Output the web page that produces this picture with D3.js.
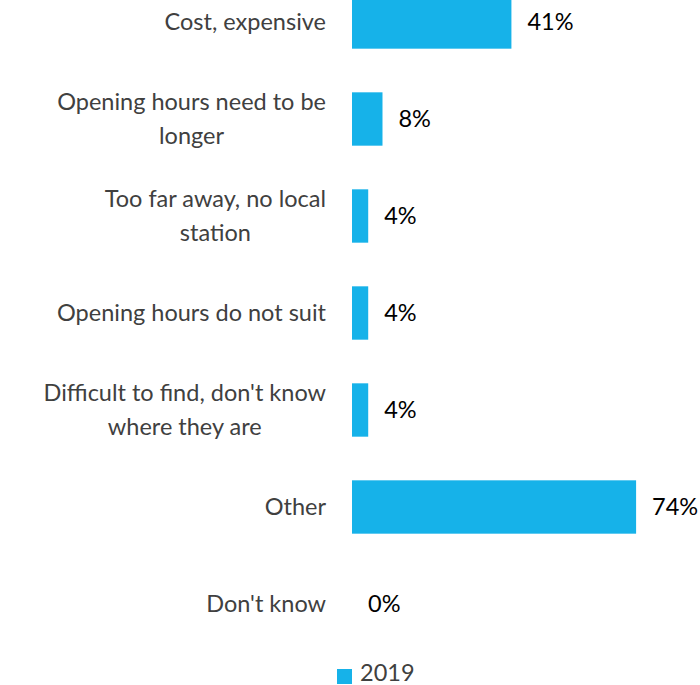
<!DOCTYPE html>
<html>
<head>
<meta charset="utf-8">
<script src="https://cdn.jsdelivr.net/npm/d3@7"></script>
<style>
  html, body { margin: 0; padding: 0; background: #fff; overflow: hidden; }
  svg { display: block; }
  text { font-family: Lato, "Open Sans", sans-serif; }
</style>
</head>
<body>
<svg id="chart" width="700" height="685"></svg>
<script>
const categories = [
  "Cost, expensive",
  "Opening hours need to be longer",
  "Too far away, no local station",
  "Opening hours do not suit",
  "Difficult to find, don't know where they are",
  "Other",
  "Don't know"
];
const values2019 = [41.3, 7.9, 4.2, 4.2, 4.2, 73.6, 0];
const valueLabels = ["41%", "8%", "4%", "4%", "4%", "74%", "0%"];
const seriesName = "2019";

const svg = d3.select("#chart");
const barColor = "#16B2E9";
const fs = 23.5;

const x = d3.scaleLinear().domain([0, 100]).range([352, 738]);
const y = d3.scaleBand().domain(categories).range([-26.5, 652.5])
  .paddingInner(0.45).paddingOuter(0.225);

// bars
svg.append("g").selectAll("rect").data(categories).join("rect")
  .attr("x", x(0))
  .attr("y", d => y(d))
  .attr("width", (d, i) => x(values2019[i]) - x(0))
  .attr("height", y.bandwidth())
  .attr("fill", barColor);

// value labels
svg.append("g").selectAll("text").data(categories).join("text")
  .attr("x", (d, i) => x(values2019[i]) + 16)
  .attr("y", d => y(d) + y.bandwidth() / 2)
  .attr("dy", "0.35em")
  .attr("font-size", fs)
  .attr("fill", "#000")
  .text((d, i) => valueLabels[i]);

// category labels (wrapped, block right-aligned, lines centred)
const labelG = svg.append("g");
const maxW = 290;
const rightEdge = 326;
categories.forEach(cat => {
  const cy = y(cat) + y.bandwidth() / 2;
  const t = labelG.append("text")
    .attr("text-anchor", "middle")
    .attr("font-size", fs).attr("fill", "#404040");
  const words = cat.split(" ");
  const lines = [];
  let line = [];
  const probe = t.append("tspan");
  const measure = s => { probe.text(s); return probe.node().getComputedTextLength(); };
  words.forEach(w => {
    const test = line.concat(w).join(" ");
    if (measure(test) > maxW && line.length) {
      lines.push(line.join(" "));
      line = [w];
    } else {
      line.push(w);
    }
  });
  lines.push(line.join(" "));
  const widest = d3.max(lines, measure);
  probe.remove();
  const cx = rightEdge - widest / 2;
  const lh = 34;
  const startY = cy - (lines.length - 1) * lh / 2;
  lines.forEach((l, i) => {
    t.append("tspan").attr("x", cx).attr("y", startY + i * lh)
      .attr("dy", "0.35em").text(l);
  });
});

// legend
const lg = svg.append("g");
lg.append("rect").attr("x", 337).attr("y", 669).attr("width", 15).attr("height", 15).attr("fill", barColor);
lg.append("text").attr("x", 360).attr("y", 673).attr("dy", "0.35em")
  .attr("font-size", fs).attr("fill", "#404040").text(seriesName);
</script>
</body>
</html>
